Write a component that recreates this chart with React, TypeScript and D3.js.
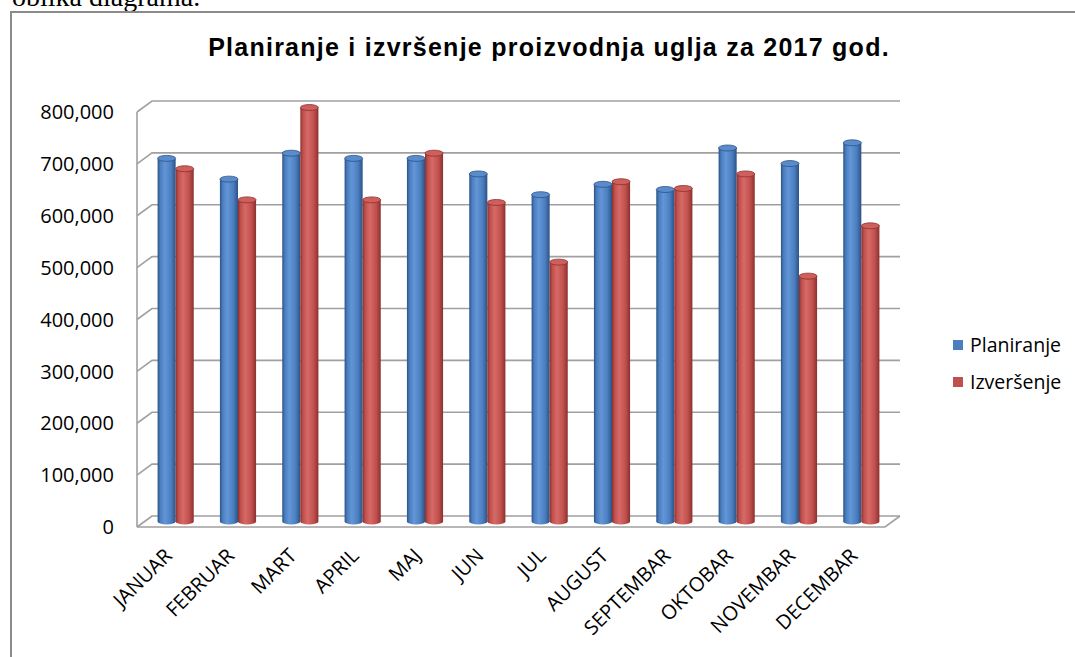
import React from "react";
import { scaleBand, scaleLinear, range } from "d3";

const months = [
  "JANUAR", "FEBRUAR", "MART", "APRIL", "MAJ", "JUN",
  "JUL", "AUGUST", "SEPTEMBAR", "OKTOBAR", "NOVEMBAR", "DECEMBAR",
];
const planiranje = [700000, 660000, 710000, 700000, 700000, 670000, 630000, 650000, 640000, 720000, 690000, 730000];
const izvrsenje = [680000, 620000, 798000, 620000, 710000, 615000, 500000, 655000, 642000, 670000, 473000, 570000];
const seriesNames = ["Planiranje", "Izveršenje"];
const yTicks = range(0, 800001, 100000);

const colors = [
  { dark: "#2c5285", base: "#4a7ebf", light: "#6396d6", top: "#5a8ccc" },
  { dark: "#8b302d", base: "#c0504d", light: "#d66a66", top: "#cf5f5b" },
];

// 3d depth of the plot box
const DX = 15;
const DY = 11;

const App = () => {
  const x = scaleBand<string>().domain(months).range([152, 900]).paddingInner(0.42).paddingOuter(0.21);
  const sub = scaleBand<string>().domain(seriesNames).range([0, x.bandwidth()]);
  const y = scaleLinear().domain([0, 800000]).range([516, 101]);
  const data = [planiranje, izvrsenje];
  const w = sub.bandwidth();
  const ry = 3;

  const fmt = (v: number) => (v === 0 ? "0" : v.toLocaleString("en-US"));

  return (
    <svg width={1075} height={657} style={{ position: "absolute", left: 0, top: 0 }}>
      <defs>
        {colors.map((c, i) => (
          <linearGradient key={i} id={"cyl" + i} x1="0" x2="1" y1="0" y2="0">
            <stop offset="0" stopColor={c.dark} />
            <stop offset="0.15" stopColor={c.base} />
            <stop offset="0.4" stopColor={c.light} />
            <stop offset="0.75" stopColor={c.base} />
            <stop offset="1" stopColor={c.dark} />
          </linearGradient>
        ))}
      </defs>
      <rect width={1075} height={657} fill="#fff" />
      <text x={12} y={6} fontFamily="Liberation Serif" fontSize={28} fill="#000">oblika diagrama.</text>
      <path d="M11,657 L11,12 L1075,12" fill="none" stroke="#8a8a8a" strokeWidth={2} />

      <text
        x={549}
        y={56}
        textAnchor="middle"
        fontFamily="Liberation Sans"
        fontWeight="bold"
        fontSize={25}
        letterSpacing={1.25}
        fill="#000"
      >
        Planiranje i izvršenje proizvodnja uglja za 2017 god.
      </text>

      {/* gridlines on back + side wall */}
      {yTicks.map((t) => (
        <path
          key={t}
          d={`M${152 - DX},${y(t) + DY} L152,${y(t)} L900,${y(t)}`}
          fill="none"
          stroke="#a0a0a0"
          strokeWidth={1.6}
        />
      ))}
      <line x1={152 - DX} x2={152 - DX} y1={y(800000) + DY} y2={y(0) + DY} stroke="#a0a0a0" strokeWidth={1.6} />
      <path
        d={`M${152 - DX},${y(0) + DY} L${900 - DX},${y(0) + DY} L900,${y(0)}`}
        fill="none"
        stroke="#a0a0a0"
        strokeWidth={1.6}
      />

      {yTicks.map((t) => (
        <text
          key={t}
          x={114}
          y={y(t) + DY}
          dy="0.36em"
          textAnchor="end"
          fontFamily="Open Sans"
          fontSize={20}
          fill="#000"
        >
          {fmt(t)}
        </text>
      ))}

      {/* cylinders */}
      {months.map((m, i) => (
        <g key={m}>
          {seriesNames.map((s, j) => {
            const x0 = (x(m) as number) + (sub(s) as number) - DX / 2;
            const top = y(data[j][i]) + DY / 2;
            const bot = y(0) + DY / 2;
            const c = colors[j];
            return (
              <g key={s}>
                <path
                  d={`M${x0},${top} L${x0},${bot} A${w / 2},${ry} 0 0 0 ${x0 + w},${bot} L${x0 + w},${top} Z`}
                  fill={`url(#cyl${j})`}
                />
                <ellipse cx={x0 + w / 2} cy={top} rx={w / 2} ry={ry} fill={c.top} stroke={c.dark} strokeWidth={0.8} />
              </g>
            );
          })}
        </g>
      ))}

      {months.map((m) => {
        const cx = (x(m) as number) + x.bandwidth() / 2 - DX;
        const cy = y(0) + DY + 25;
        return (
          <text
            key={m}
            transform={`translate(${cx},${cy}) rotate(-45)`}
            textAnchor="end"
            dy="0.35em"
            fontFamily="Open Sans"
            fontSize={20}
            fill="#000"
          >
            {m}
          </text>
        );
      })}

      {/* legend */}
      {seriesNames.map((s, j) => (
        <g key={s} transform={`translate(953,${345 + j * 37})`}>
          <rect x={0} y={-5} width={10} height={10} fill={colors[j].base} />
          <text x={17} y={0} dy="0.35em" fontFamily="Open Sans" fontSize={19.5} fill="#000">
            {s}
          </text>
        </g>
      ))}
    </svg>
  );
};

export default App;
